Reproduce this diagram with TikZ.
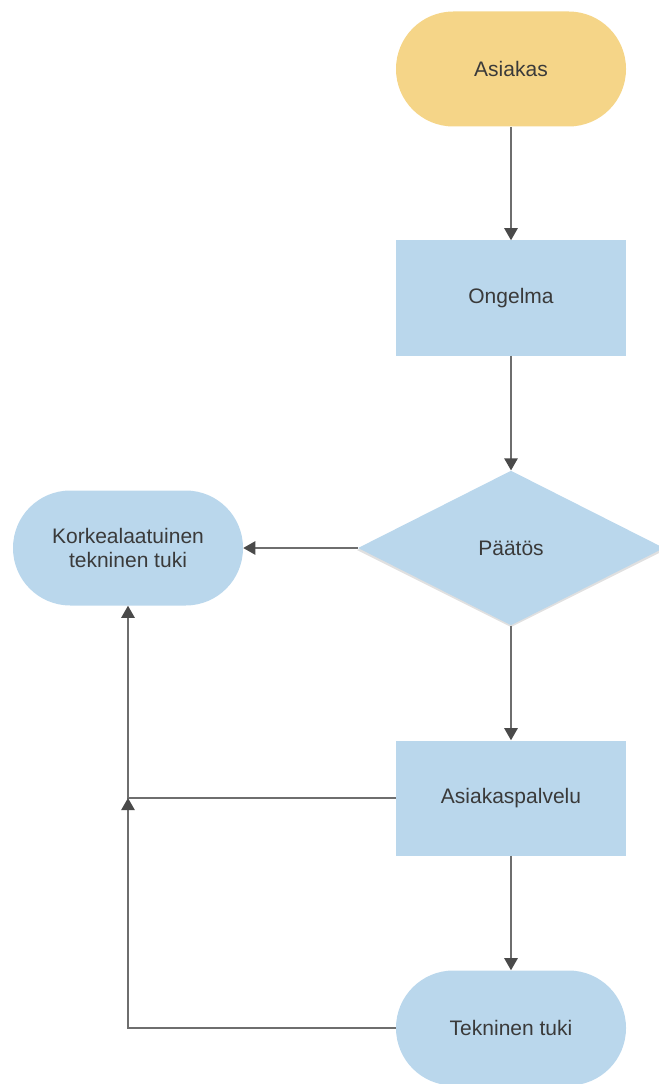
\documentclass[tikz,border=0pt]{standalone}
\usepackage{fontspec}
\setmainfont{Liberation Sans}
\usetikzlibrary{shapes.geometric,arrows.meta}
\definecolor{termfill}{HTML}{F5D588}
\definecolor{boxfill}{HTML}{BAD7EC}
\definecolor{txt}{HTML}{3A3A3A}
\definecolor{linec}{HTML}{6E6E6E}
\definecolor{tipc}{HTML}{4A4A4A}
\tikzset{
  base/.style={inner sep=0pt, text=txt, font=\fontsize{15.75}{18}\selectfont, align=center},
  stadium/.style={base, rectangle, rounded corners=43pt, minimum width=172.5pt, minimum height=86.25pt, fill=boxfill},
  procbox/.style={base, rectangle, minimum width=172.5pt, minimum height=86.25pt, fill=boxfill},
  decision/.style={base, diamond, aspect=2, minimum width=229.5pt, minimum height=116pt, fill=boxfill},
  conn/.style={draw=linec, line width=1.1pt, -{Triangle[width=10pt,length=9pt,color=tipc]}},
}
\begin{document}
\begin{tikzpicture}[x=0.75pt,y=-0.75pt]
\useasboundingbox (0,0) rectangle (659,1084);
\clip (0,0) rectangle (659,1084);
\node[stadium, fill=termfill] (asiakas) at (511,69) {Asiakas};
\node[procbox] (ongelma) at (511,298) {Ongelma};
\fill[black!12] (511,473) -- (665,550) -- (511,627) -- (357,550) -- cycle;
\node[decision] (paatos) at (511,548) {Päätös};
\node[stadium] (korkea) at (128,548) {Korkealaatuinen\\tekninen tuki};
\node[procbox] (palvelu) at (511,798) {Asiakaspalvelu};
\node[stadium] (tekninen) at (511,1028) {Tekninen tuki};
\coordinate (join) at (korkea.south |- palvelu.west);
\draw[conn] (asiakas) -- (ongelma);
\draw[conn] (ongelma) -- (paatos);
\draw[conn] (paatos.west) -- (korkea.east);
\draw[conn] (paatos) -- (palvelu);
\draw[conn] (palvelu) -- (tekninen);
\draw[conn] (palvelu.west) -| (korkea.south);
\draw[conn] (tekninen.west) -| (join);
\end{tikzpicture}
\end{document}
